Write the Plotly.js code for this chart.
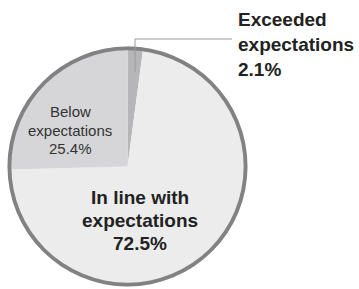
<!DOCTYPE html>
<html>
<head>
<meta charset="utf-8">
<script src="https://cdn.plot.ly/plotly-3.0.1.min.js"></script>
<style>html,body{margin:0;padding:0;background:#fff;}#chart{width:359px;height:289px;}</style>
</head>
<body>
<div id="chart"></div>
<script>
// Data
const categories = ["Exceeded expectations", "In line with expectations", "Below expectations"];
const labelLines = [["Exceeded", "expectations"], ["In line with", "expectations"], ["Below", "expectations"]];
const values = [2.1, 72.5, 25.4];
const sliceColors = ["#b6b6b8", "#ececec", "#d6d6d8"];

const W = 359, H = 289;
const px = x => x / W;
const py = y => 1 - y / H;

// pie geometry (pixels)
const cx = 127.5, cy = 166.5, r = 120;
const domain = {x: [px(cx - r), px(cx + r)], y: [py(cy + r), py(cy - r)]};

const pie = {
  type: "pie", labels: categories, values: values, sort: false,
  direction: "clockwise", rotation: 0, domain: domain,
  marker: {colors: sliceColors, line: {width: 0}},
  textinfo: "none", hoverinfo: "none", showlegend: false
};
const ring = {
  type: "pie", labels: ["ring"], values: [1], hole: 0.968, sort: false,
  domain: domain, marker: {colors: ["#828284"], line: {width: 0}},
  textinfo: "none", hoverinfo: "none", showlegend: false
};

const fmt = v => v.toFixed(1) + "%";
const annotations = [];
function addLines(lines, x, y0, dy, font, xanchor) {
  lines.forEach((t, i) => {
    annotations.push({text: t, x: px(x), y: py(y0 + i * dy), xref: "paper", yref: "paper",
      xanchor: xanchor, yanchor: "middle", showarrow: false, font: font});
  });
}
const boldFont = {family: "Liberation Sans, Arial, sans-serif", size: 19, color: "#222", weight: "bold"};
const regFont = {family: "Liberation Sans, Arial, sans-serif", size: 15, color: "#333"};

addLines(labelLines[0].concat([fmt(values[0])]), 236, 20, 24.5, boldFont, "left");
addLines(labelLines[1].concat([fmt(values[1])]), 140, 197, 23.5, boldFont, "center");
addLines(labelLines[2].concat([fmt(values[2])]), 70, 112, 18, regFont, "center");

const layout = {
  width: W, height: H, margin: {l: 0, r: 0, t: 0, b: 0},
  paper_bgcolor: "#fff", plot_bgcolor: "#fff",
  annotations: annotations,
  shapes: [
    {type: "path", xref: "paper", yref: "paper",
     path: `M ${px(135)} ${py(72)} L ${px(135)} ${py(39)} L ${px(232)} ${py(39)}`,
     line: {color: "#9a9a9a", width: 1}}
  ]
};
Plotly.newPlot("chart", [pie, ring], layout, {displayModeBar: false, staticPlot: true});
</script>
</body>
</html>
